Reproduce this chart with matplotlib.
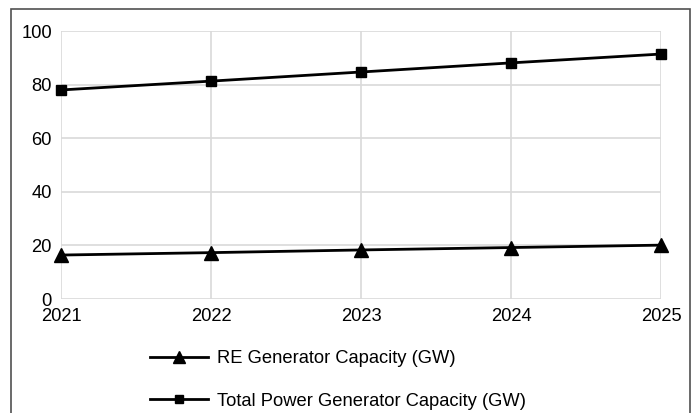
import matplotlib
matplotlib.use("Agg")
import matplotlib.pyplot as plt
from matplotlib.patches import Rectangle

years = ["2021", "2022", "2023", "2024", "2025"]
re_capacity = [16.4, 17.3, 18.3, 19.2, 20.1]
total_capacity = [78.0, 81.3, 84.7, 88.1, 91.4]
y_ticks = [0, 20, 40, 60, 80, 100]

plt.rcParams['font.family'] = ['Liberation Sans', 'DejaVu Sans']
fs = 13.2

fig = plt.figure(figsize=(6.97, 4.13), dpi=100)
ax = fig.add_axes([61/697, 1-299/413, 600/697, 268/413])

x = list(range(len(years)))
l1, = ax.plot(x, re_capacity, color='black', lw=2.0, marker='^', markersize=9.5,
              label='RE Generator Capacity (GW)', zorder=3, clip_on=False)
l2, = ax.plot(x, total_capacity, color='black', lw=2.0, marker='s', markersize=7.5,
              label='Total Power Generator Capacity (GW)', zorder=3, clip_on=False)

ax.set_xlim(0, len(years)-1)
ax.set_ylim(0, 100)
ax.set_xticks(x)
ax.set_xticklabels(years, fontsize=fs)
ax.set_yticks(y_ticks)
ax.set_yticklabels([str(v) for v in y_ticks], fontsize=fs)
ax.grid(True, color='#d9d9d9', lw=1.2)
ax.set_axisbelow(True)
for s in ax.spines.values():
    s.set_visible(False)
ax.tick_params(length=0)
ax.tick_params(axis='x', pad=6.5)
ax.tick_params(axis='y', pad=6.5)

fig.legend(handles=[l1, l2], loc='upper left', bbox_to_anchor=(150/697, 1-350/413),
           frameon=False, fontsize=fs, handlelength=3.15, handletextpad=0.5,
           labelspacing=1.4, borderpad=0, borderaxespad=0, markerscale=0.85)

fig.patches.append(Rectangle((11/697, -0.1), 679/697, 1.1 - 9/413, transform=fig.transFigure,
                             fill=False, edgecolor='#505050', lw=1.2, clip_on=False))

fig.savefig('out.png', dpi=100)
